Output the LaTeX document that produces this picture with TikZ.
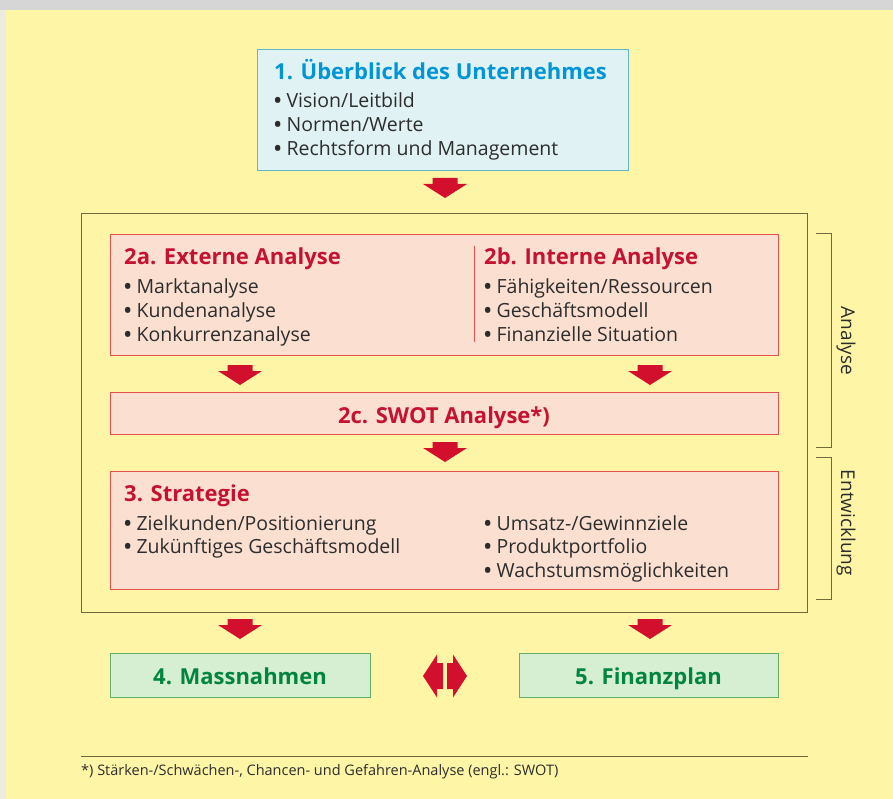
\documentclass[tikz,border=0pt]{standalone}
\usepackage{fontspec}
\setmainfont{Open Sans}

\definecolor{bgyellow}{RGB}{254,246,166}
\definecolor{bggray}{RGB}{214,214,214}
\definecolor{edgegray}{RGB}{236,236,226}
\definecolor{frameolive}{RGB}{115,105,65}
\definecolor{ovfill}{RGB}{224,242,244}
\definecolor{ovdraw}{RGB}{95,185,205}
\definecolor{ovtitle}{RGB}{0,150,214}
\definecolor{anfill}{RGB}{251,224,210}
\definecolor{andraw}{RGB}{228,80,80}
\definecolor{antitle}{RGB}{196,18,48}
\definecolor{mfill}{RGB}{214,238,210}
\definecolor{mdraw}{RGB}{100,175,100}
\definecolor{mtitle}{RGB}{0,132,62}
\definecolor{arrowred}{RGB}{210,16,46}
\definecolor{textdark}{RGB}{45,45,45}

\newcommand{\bul}{{\bfseries\textbullet}\ }

\tikzset{
  box/.style={inner sep=0pt, line width=0.7pt},
  ovbox/.style={box, draw=ovdraw, fill=ovfill},
  anbox/.style={box, draw=andraw, fill=anfill},
  mbox/.style={box, draw=mdraw, fill=mfill},
  head/.style={anchor=base west, inner sep=0pt, font=\fontsize{22}{26}\selectfont\bfseries},
  item/.style={anchor=base west, inner sep=0pt, text=textdark, font=\fontsize{19.5}{23}\selectfont},
  sidelabel/.style={inner sep=0pt, rotate=-90, text=textdark, font=\fontsize{19}{22}\selectfont},
  fatarrow/.pic={\fill[arrowred] (-12.5,-10) -- (12.5,-10) -- (12.5,-4) -- (22,-4) -- (0,10) -- (-22,-4) -- (-12.5,-4) -- cycle;},
  swaparrow/.pic={
    \fill[arrowred] (-22,0) -- (-8,-21.5) -- (-8,-13) -- (-2,-13) -- (-2,13) -- (-8,13) -- (-8,21.5) -- cycle;
    \fill[arrowred] (22,0) -- (8,-21.5) -- (8,-13) -- (2,-13) -- (2,13) -- (8,13) -- (8,21.5) -- cycle;}
}

\begin{document}
\begin{tikzpicture}[x=1pt, y=-1pt]
    \useasboundingbox (0,0) rectangle (893,799);
    % Hintergrund
    \fill[bggray] (0,0) rectangle (893,10);
    \fill[edgegray] (0,10) rectangle (6,799);
    \fill[bgyellow] (6,10) rectangle (893,799);

    % 1. Ueberblick
    \node[ovbox, minimum width=371, minimum height=121] (ov) at (442.5,109.5) {};
    \node[head, text=ovtitle] (ovhead) at (274,80) {1. Überblick des Unternehmes};
    \node[item] (ovitema) at (274,108) {\bul Vision/Leitbild};
    \node[item] (ovitemb) at (274,132) {\bul Normen/Werte};
    \node[item] (ovitemc) at (274,156) {\bul Rechtsform und Management};
    \pic at (445,188) {fatarrow};

    % Rahmen Analyse + Entwicklung
    \node[draw=frameolive, line width=0.7pt, inner sep=0pt, minimum width=726, minimum height=399] (frame) at (444,412.5) {};

    % 2a / 2b
    \node[anbox, minimum width=668, minimum height=121] (ab) at (444,295) {};
    \draw[andraw, line width=0.7pt] (474,246) -- (474,342);
    \node[head, text=antitle] (exthead) at (124,265) {2a. Externe Analyse};
    \node[item] (extitema) at (124,294) {\bul Marktanalyse};
    \node[item] (extitemb) at (124,317.5) {\bul Kundenanalyse};
    \node[item] (extitemc) at (124,341) {\bul Konkurrenzanalyse};
    \node[head, text=antitle] (inthead) at (484,265) {2b. Interne Analyse};
    \node[item] (intitema) at (484,294) {\bul Fähigkeiten/Ressourcen};
    \node[item] (intitemb) at (484,317.5) {\bul Geschäftsmodell};
    \node[item] (intitemc) at (484,341) {\bul Finanzielle Situation};
    \pic at (240,375) {fatarrow};
    \pic at (650,375) {fatarrow};

    % 2c SWOT
    \node[anbox, minimum width=668, minimum height=42] (swot) at (444,413) {};
    \node[head, anchor=base, text=antitle] (swottext) at (444,423) {2c. SWOT Analyse*)};
    \pic at (445,452) {fatarrow};

    % 3. Strategie
    \node[anbox, minimum width=668, minimum height=118] (strat) at (444,530) {};
    \node[head, text=antitle] (strathead) at (124,501) {3. Strategie};
    \node[item] (stratitema) at (124,530) {\bul Zielkunden/Positionierung};
    \node[item] (stratitemb) at (124,553.5) {\bul Zukünftiges Geschäftsmodell};
    \node[item] (stratitemc) at (484,530) {\bul Umsatz-/Gewinnziele};
    \node[item] (stratitemd) at (484,553.5) {\bul Produktportfolio};
    \node[item] (stratiteme) at (484,577) {\bul Wachstumsmöglichkeiten};

    % Klammern rechts
    \draw[frameolive, line width=0.7pt] (816,233) -- (831,233) -- (831,447) -- (816,447);
    \draw[frameolive, line width=0.7pt] (816,457) -- (831,457) -- (831,599) -- (816,599);
    \node[sidelabel] (lblanalyse) at (846,341) {Analyse};
    \node[sidelabel] (lblentw) at (846,523) {Entwicklung};

    % 4. / 5.
    \pic at (240,629) {fatarrow};
    \pic at (650,629) {fatarrow};
    \node[mbox, minimum width=260, minimum height=44] (mass) at (240,675.5) {};
    \node[head, anchor=base, text=mtitle] (masstext) at (240,684) {4. Massnahmen};
    \node[mbox, minimum width=259, minimum height=44] (fin) at (648.5,675.5) {};
    \node[head, anchor=base, text=mtitle] (fintext) at (648.5,684) {5. Finanzplan};
    \pic at (445,676) {swaparrow};

    % Fussnote
    \draw[frameolive, line width=0.7pt] (81,756) -- (808,756);
    \node[anchor=base west, inner sep=0pt, text=textdark, font=\fontsize{14.5}{17}\selectfont] (footnote) at (81,775) {*) Stärken-/Schwächen-, Chancen- und Gefahren-Analyse (engl.: SWOT)};
\end{tikzpicture}
\end{document}
